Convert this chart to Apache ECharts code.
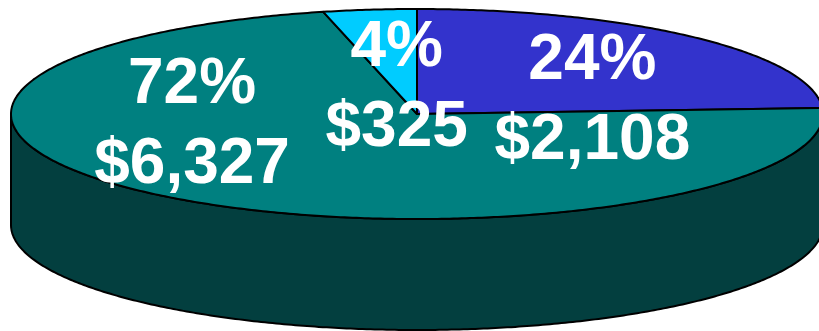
<!DOCTYPE html>
<html>
<head>
<meta charset="utf-8">
<style>html,body{margin:0;padding:0;background:#fff}#chart{width:819px;height:331px}</style>
<script src="https://cdn.jsdelivr.net/npm/echarts@6/dist/echarts.min.js"></script>
</head>
<body>
<div id="chart"></div>
<script>
// Spending split, clockwise from twelve o'clock
const amounts = [2108, 6327, 325];
const topColors = ['#3333CC', '#008080', '#00CCFF'];
const sideColors = ['#1A1A66', '#033F3F', '#006680'];

// Label centres in the unit-disc coordinates of the plot
const labelAnchors = [[0.432, 0.123], [-0.554, -0.105], [-0.05, 0.247]];

// The disc is a unit circle; the grid's unequal scales flatten it into an ellipse
const DISC_DEPTH = 1.057;
const OUTLINE = '#000';
const OUTLINE_WIDTH = 2;

const total = amounts.reduce((a, b) => a + b, 0);
const TURN = Math.PI * 2;
const sliceAngles = [];
amounts.reduce((sum, v) => {
  sliceAngles.push([sum / total * TURN, (sum + v) / total * TURN]);
  return sum + v;
}, 0);
const money = v => '$' + v.toLocaleString('en-US');
const percent = v => Math.round(v / total * 100) + '%';

function arcPoints(api, from, to, drop) {
  const steps = Math.max(2, Math.ceil((to - from) / 0.01));
  const pts = [];
  for (let i = 0; i <= steps; i++) {
    const a = from + (to - from) * i / steps;
    pts.push(api.coord([Math.sin(a), Math.cos(a) - drop]));
  }
  return pts;
}

function renderSlice(params, api) {
  const i = params.dataIndex;
  const [start, end] = sliceAngles[i];
  const children = [];

  // The wall is visible only along the front half of the rim
  const wallFrom = Math.max(start, TURN / 4);
  const wallTo = Math.min(end, TURN * 3 / 4);
  if (wallTo > wallFrom) {
    const rim = arcPoints(api, wallFrom, wallTo, 0);
    const base = arcPoints(api, wallFrom, wallTo, DISC_DEPTH).reverse();
    children.push({
      type: 'polygon',
      shape: { points: rim.concat(base) },
      style: { fill: sideColors[i], stroke: OUTLINE, lineWidth: OUTLINE_WIDTH, lineJoin: 'round' }
    });
  }

  children.push({
    type: 'polygon',
    shape: { points: [api.coord([0, 0])].concat(arcPoints(api, start, end, 0)) },
    style: { fill: topColors[i], stroke: OUTLINE, lineWidth: OUTLINE_WIDTH, lineJoin: 'round' }
  });
  return { type: 'group', children };
}

function renderLabel(params, api) {
  const i = params.dataIndex;
  const [x, y] = api.coord(labelAnchors[i]);
  return {
    type: 'text',
    x, y,
    style: {
      text: percent(amounts[i]) + '\n' + money(amounts[i]),
      fill: '#fff',
      font: 'bold 64px "Liberation Sans", Arial, sans-serif',
      lineHeight: 80,
      align: 'center',
      verticalAlign: 'middle'
    }
  };
}

const chart = echarts.init(document.getElementById('chart'), null, { renderer: 'canvas' });
chart.setOption({
  animation: false,
  backgroundColor: '#fff',
  // The disc runs slightly past the right edge of the canvas, so the grid must not be clamped
  grid: { left: 11, top: 9, width: 812, height: 321, containLabel: false, outerBoundsMode: 'none' },
  xAxis: { type: 'value', min: -1, max: 1, show: false },
  yAxis: { type: 'value', min: -1 - DISC_DEPTH, max: 1, show: false },
  series: [
    {
      type: 'custom',
      name: 'slices',
      coordinateSystem: 'cartesian2d',
      clip: false,
      silent: true,
      data: amounts.map(v => [v]),
      renderItem: renderSlice
    },
    {
      type: 'custom',
      name: 'labels',
      coordinateSystem: 'cartesian2d',
      clip: false,
      silent: true,
      z: 5,
      data: amounts.map(v => [v]),
      renderItem: renderLabel
    }
  ]
});
</script>
</body>
</html>
